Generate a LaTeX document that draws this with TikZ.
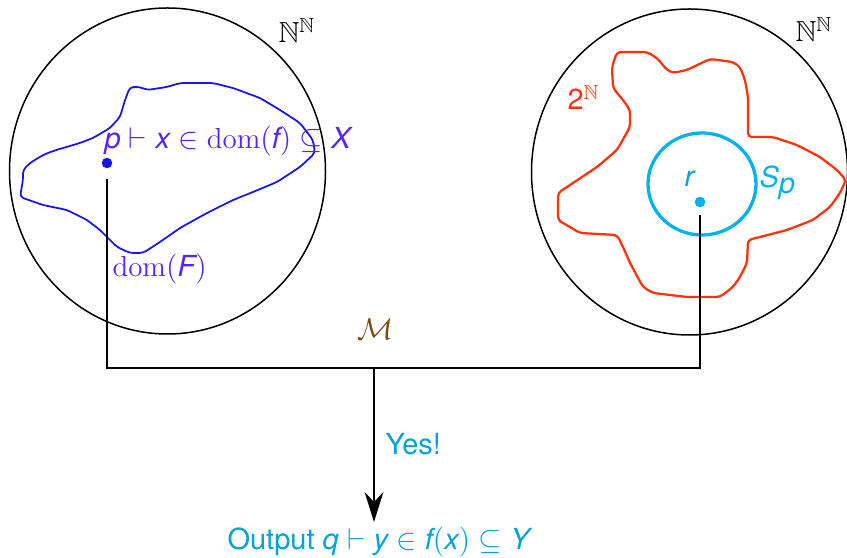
\documentclass[tikz,border=0pt]{standalone}
\usepackage{amssymb}
\usepackage{fontspec}
\setsansfont{TeX Gyre Heros}
\usetikzlibrary{arrows.meta,shapes.geometric}
\definecolor{cblue}{RGB}{20,20,245}
\definecolor{cviolet}{RGB}{85,35,255}
\definecolor{ccyan}{RGB}{0,178,235}
\definecolor{ctext}{RGB}{0,163,215}
\definecolor{cred}{RGB}{255,50,10}
\definecolor{cbrown}{RGB}{120,75,20}
\newcommand\sfi[1]{\textsf{\itshape #1}}
\begin{document}
\begin{tikzpicture}[x=0.4pt,y=-0.4pt,
  font=\fontsize{11.6}{14}\selectfont,
  bigcirc/.style={draw, ellipse, line width=0.6pt, minimum width=126.4pt, minimum height=130.4pt, inner sep=0pt},
  lbl/.style={anchor=base west, inner sep=0pt},
  dot/.style={circle, inner sep=0pt, minimum size=4.2pt},
  wire/.style={line width=0.8pt},
  blob/.style={line width=0.7pt, line join=round, rounded corners=1.5pt}]
\useasboundingbox (0,0) rectangle (847,558);

% big circles
\node[bigcirc] (L) at (167.5,171) {};
\node[bigcirc] (R) at (689.5,172) {};
\node[lbl] (NL) at (278,43) {$\mathbb{N}^{\mathbb{N}}$};
\node[lbl] (NR) at (795,42) {$\mathbb{N}^{\mathbb{N}}$};

% blue blob
\draw[blob, draw=cblue] (130,87) -- (140,87) -- (147,90) -- (167,87) -- (180,83) -- (213,83) -- (233,88) -- (260,98) -- (280,110) -- (300,123) -- (313,140) -- (315,153) -- (300,167) -- (277,182) -- (253,192) -- (233,200) -- (207,213) -- (180,228) -- (160,242) -- (143,253) -- (130,253) -- (117,247) -- (100,230) -- (87,220) -- (67,210) -- (43,205) -- (20,197) -- (23,180) -- (23,170) -- (30,163) -- (43,155) -- (53,151) -- (80,143) -- (93,138) -- (110,128) -- (120,117) -- (125,100) -- cycle;

% red blob
\draw[blob, draw=cred, line width=0.9pt] (617,52) -- (647,52) -- (657,58) -- (667,70) -- (673,73) -- (687,70) -- (710,59) -- (733,62) -- (740,67) -- (745,80) -- (748,97) -- (748,137) -- (773,137) -- (797,145) -- (820,157) -- (837,170) -- (846,180) -- (840,193) -- (830,207) -- (813,220) -- (787,230) -- (760,237) -- (748,240) -- (747,263) -- (740,277) -- (733,287) -- (720,297) -- (687,297) -- (653,293) -- (643,287) -- (630,263) -- (623,247) -- (617,235) -- (580,233) -- (563,223) -- (558,220) -- (558,193) -- (573,183) -- (597,167) -- (617,150) -- (630,127) -- (630,110) -- (623,100) -- (613,88) -- (612,67) -- cycle;

% cyan circle
\node[draw=ccyan, ellipse, line width=1.3pt, minimum width=43.2pt, minimum height=40.8pt, inner sep=0pt] (S) at (702,184) {};

% dots
\node[dot, fill=cblue] (p) at (107,163) {};
\node[dot, fill=ccyan] (r) at (700,202) {};

% labels
\node[lbl, text=cviolet] (plab) at (104,149) {$\sfi{p}\vdash\sfi{x}\in\mathrm{dom}(\sfi{f})\subseteq\sfi{X}$};
\node[lbl, text=cviolet] (domF) at (112,277) {$\mathrm{dom}(\sfi{F})$};
\node[lbl, text=cred] (two) at (567,110) {\sffamily 2$^{\mathbb{N}}$};
\node[lbl, text=ccyan] (Sp) at (759,188) {\sfi{S}$_{\sfi{p}}$};
\node[lbl, text=ctext] (rl) at (684,187) {\sfi{r}};
\node[lbl, text=cbrown] (M) at (357,340) {$\mathcal{M}$};
\node[lbl, text=ctext] (yes) at (385,455) {\sffamily Yes!};
\node[lbl, text=ctext] (out) at (227,550) {\sffamily Output $\sfi{q}\vdash\sfi{y}\in\sfi{f}(\sfi{x})\subseteq\sfi{Y}$};

% connectors
\coordinate (m) at (374,368);
\draw[wire, shorten <=4pt, shorten >=3pt] (p) |- (m) -| (r);
\draw[wire, -{Stealth[length=12pt,width=7.5pt,inset=4pt]}, shorten >=2pt] (m) -- (m |- out.north);
\end{tikzpicture}
\end{document}
